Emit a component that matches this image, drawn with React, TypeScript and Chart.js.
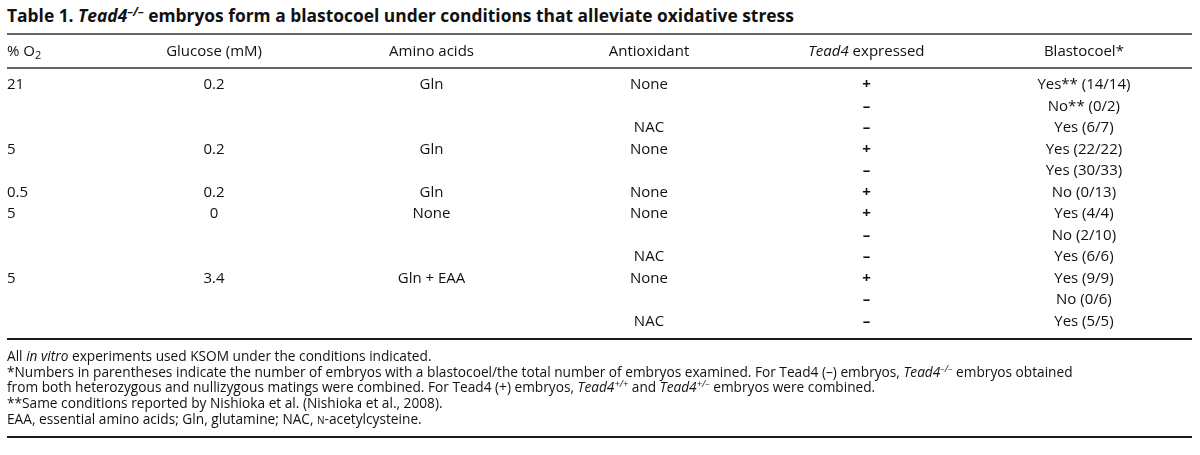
import React, { useEffect, useRef } from "react";
import { Chart, registerables } from "chart.js";

Chart.register(...registerables);

// ---------- data ----------
const O2_PERCENT = ["21", "", "", "5", "", "0.5", "5", "", "", "5", "", ""];
const GLUCOSE_MM = ["0.2", "", "", "0.2", "", "0.2", "0", "", "", "3.4", "", ""];
const AMINO_ACIDS = ["Gln", "", "", "Gln", "", "Gln", "None", "", "", "Gln + EAA", "", ""];
const ANTIOXIDANT = ["None", "", "NAC", "None", "", "None", "None", "", "NAC", "None", "", "NAC"];
const TEAD4_EXPRESSED = ["+", "–", "–", "+", "–", "+", "+", "–", "–", "+", "–", "–"];
const BLASTOCOEL = ["Yes", "No", "Yes", "Yes", "Yes", "No", "Yes", "No", "Yes", "Yes", "No", "Yes"];
const BLASTOCOEL_NOTE = ["**", "**", "", "", "", "", "", "", "", "", "", ""];
const WITH_BLASTOCOEL = [14, 0, 6, 22, 30, 0, 4, 2, 6, 9, 0, 5];
const EMBRYOS_EXAMINED = [14, 2, 7, 22, 33, 13, 4, 10, 6, 9, 6, 5];

type Run = { t: string; italic?: boolean; sub?: boolean; bold?: boolean };
const HEADERS: Run[][] = [
  [{ t: "% O" }, { t: "2", sub: true }],
  [{ t: "Glucose (mM)" }],
  [{ t: "Amino acids" }],
  [{ t: "Antioxidant" }],
  [{ t: "Tead4", italic: true }, { t: " expressed" }],
  [{ t: "Blastocoel*" }],
];

const BLASTOCOEL_LABELS = BLASTOCOEL.map(
  (v, i) => `${v}${BLASTOCOEL_NOTE[i]} (${WITH_BLASTOCOEL[i]}/${EMBRYOS_EXAMINED[i]})`
);
const COLUMNS = [O2_PERCENT, GLUCOSE_MM, AMINO_ACIDS, ANTIOXIDANT, TEAD4_EXPRESSED, BLASTOCOEL_LABELS];
const SIGN_COLUMN = 4;

// ---------- style ----------
const FONT = '"Open Sans", "Noto Sans", sans-serif';
const CELL_SIZE = 15;
const TEXT = "#111";
const CANVAS_TOP = 24;
const CANVAS_H = 323;

function drawRuns(ctx: CanvasRenderingContext2D, runs: Run[], x: number, y: number, align: "left" | "center") {
  const fontOf = (r: Run) =>
    `${r.italic ? "italic " : ""}${r.bold ? "700 " : ""}${r.sub ? Math.round(CELL_SIZE * 0.7) : CELL_SIZE}px ${FONT}`;
  let total = 0;
  for (const r of runs) {
    ctx.font = fontOf(r);
    total += ctx.measureText(r.t).width;
  }
  let cx = align === "center" ? x - total / 2 : x;
  ctx.textAlign = "left";
  ctx.textBaseline = "middle";
  for (const r of runs) {
    ctx.font = fontOf(r);
    ctx.fillText(r.t, cx, r.sub ? y + 4 : y);
    cx += ctx.measureText(r.t).width;
  }
}

const tablePlugin = {
  id: "tableCells",
  afterDatasetsDraw(chart: any) {
    const ctx: CanvasRenderingContext2D = chart.ctx;
    const area = chart.chartArea;
    const xs = chart.scales.x;
    ctx.save();
    const rule = (y: number, color: string, w: number) => {
      ctx.beginPath();
      ctx.strokeStyle = color;
      ctx.lineWidth = w;
      ctx.moveTo(area.left, y);
      ctx.lineTo(area.right, y);
      ctx.stroke();
    };
    rule(area.top - 34, "#666", 2);
    rule(area.top, "#666", 2);
    rule(area.bottom, "#1a1a1a", 2);
    ctx.fillStyle = TEXT;
    HEADERS.forEach((runs, i) => {
      const px = Math.max(area.left, xs.getPixelForValue(i));
      drawRuns(ctx, runs, px, area.top - 16, i === 0 ? "left" : "center");
    });
    chart.data.datasets.forEach((ds: any, di: number) => {
      const meta = chart.getDatasetMeta(di);
      meta.data.forEach((el: any, j: number) => {
        const px = Math.max(area.left, el.x);
        drawRuns(ctx, [{ t: ds.cellText[j], bold: di === SIGN_COLUMN }], px, el.y, di === 0 ? "left" : "center");
      });
    });
    ctx.restore();
  },
};

function TableChart() {
  const ref = useRef<HTMLCanvasElement>(null);
  useEffect(() => {
    if (!ref.current) return;
    const datasets = COLUMNS.map((col, ci) => {
      const pts: { x: number; y: number }[] = [];
      const txt: string[] = [];
      col.forEach((v, ri) => {
        if (v !== "") {
          pts.push({ x: ci, y: ri + 1 });
          txt.push(v);
        }
      });
      return { label: `col${ci}`, data: pts, cellText: txt, pointRadius: 0, showLine: false, clip: false } as any;
    });
    const chart = new Chart(ref.current, {
      type: "scatter",
      data: { datasets },
      options: {
        animation: false,
        responsive: false,
        devicePixelRatio: 1,
        layout: { padding: { left: 7, right: 8, top: 44, bottom: 8 } },
        plugins: { legend: { display: false }, tooltip: { enabled: false } },
        scales: {
          x: { type: "linear", min: 0.048, max: 5.497, display: false },
          y: { type: "linear", min: 0.209, max: 12.814, reverse: true, display: false },
        },
      },
      plugins: [tablePlugin],
    });
    return () => chart.destroy();
  }, []);
  return (
    <canvas
      ref={ref}
      width={1200}
      height={CANVAS_H}
      style={{ position: "absolute", left: 0, top: CANVAS_TOP, width: 1200, height: CANVAS_H }}
    />
  );
}

const sup: React.CSSProperties = { fontSize: "0.68em", verticalAlign: "0.55em", lineHeight: 0 };

export default function App() {
  return (
    <div
      style={{
        position: "absolute",
        left: 0,
        top: 0,
        width: 1200,
        height: 455,
        background: "#fff",
        color: TEXT,
        fontFamily: FONT,
        overflow: "hidden",
      }}
    >
      <div style={{ position: "absolute", left: 7, top: 3, fontSize: 17.4, lineHeight: "24px", fontWeight: 700, whiteSpace: "nowrap" }}>
        Table 1. <i>Tead4</i>
        <i style={sup}>–/–</i> embryos form a blastocoel under conditions that alleviate oxidative stress
      </div>
      <TableChart />
      <div style={{ position: "absolute", left: 7, top: 348, fontSize: 13.7, lineHeight: "15.7px", whiteSpace: "nowrap" }}>
        <div>
          All <i>in vitro</i> experiments used KSOM under the conditions indicated.
        </div>
        <div>
          *Numbers in parentheses indicate the number of embryos with a blastocoel/the total number of embryos examined. For Tead4 (–) embryos,{" "}
          <i>Tead4</i>
          <i style={sup}>–/–</i> embryos obtained
        </div>
        <div>
          from both heterozygous and nullizygous matings were combined. For Tead4 (+) embryos, <i>Tead4</i>
          <i style={sup}>+/+</i> and <i>Tead4</i>
          <i style={sup}>+/–</i> embryos were combined.
        </div>
        <div>**Same conditions reported by Nishioka et al. (Nishioka et al., 2008).</div>
        <div>
          EAA, essential amino acids; Gln, glutamine; NAC, <span style={{ fontVariant: "small-caps" }}>n</span>-acetylcysteine.
        </div>
      </div>
      <div style={{ position: "absolute", left: 7, top: 436, width: 1185, height: 2, background: "#1a1a1a" }} />
    </div>
  );
}
